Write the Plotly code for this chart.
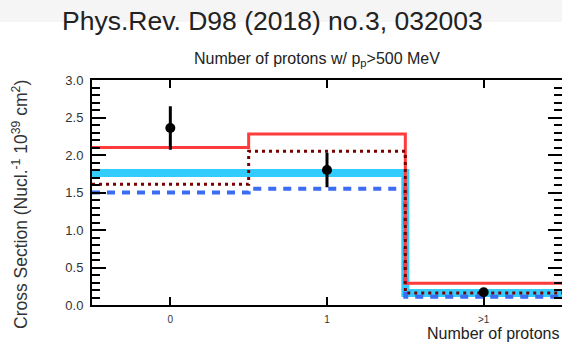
import plotly.graph_objects as go

# Bin edges and labels for the proton multiplicity
bin_edges = [-0.5, 0.5, 1.5, 2.5]
bin_centers = [0, 1, 2]
tick_labels = ["0", "1", ">1"]

# Model predictions per bin (10^-39 cm^2 / nucleon)
model_red = [2.10, 2.28, 0.29]
model_cyan = [1.76, 1.76, 0.16]
model_dotted = [1.61, 2.05, 0.16]
model_dashed = [1.50, 1.55, 0.11]

# Measured cross section and uncertainties
data_y = [2.36, 1.80, 0.17]
data_err_plus = [0.29, 0.23, 0.03]
data_err_minus = [0.29, 0.23, 0.03]


def step(vals):
    return bin_edges, list(vals) + [vals[-1]]


fig = go.Figure()

for vals, color, width, dash in [
    (model_cyan, "#33ccff", 8, "solid"),
    (model_dashed, "#3a6cf4", 4, "8px,7px"),
    (model_red, "#ff3b3b", 3, "solid"),
    (model_dotted, "#7a0000", 3, "3px,4px"),
]:
    xs, ys = step(vals)
    fig.add_trace(go.Scatter(x=xs, y=ys, mode="lines", line_shape="hv",
                             line=dict(color=color, width=width, dash=dash),
                             showlegend=False, hoverinfo="skip"))

fig.add_trace(go.Scatter(
    x=bin_centers, y=data_y, mode="markers",
    marker=dict(color="black", size=10),
    error_y=dict(type="data", array=data_err_plus, arrayminus=data_err_minus,
                 color="black", thickness=3, width=0),
    showlegend=False,
))

# Right-hand ticks without an axis line
fig.add_trace(go.Scatter(x=[None], y=[None], yaxis="y2", showlegend=False))

font = "Liberation Sans, Arial, sans-serif"
y_ticks = [0, 0.5, 1.0, 1.5, 2.0, 2.5, 3.0]

fig.update_layout(
    width=562, height=344,
    margin=dict(l=92, r=0, t=80, b=39),
    paper_bgcolor="white", plot_bgcolor="white",
    font=dict(family=font, color="#333333"),
    xaxis=dict(range=[-0.5, 2.5], tickvals=bin_centers, ticktext=tick_labels,
               ticks="inside", ticklen=8, tickwidth=1.5, tickcolor="black",
               showline=True, linecolor="black", linewidth=2, mirror="ticks",
               showgrid=False, zeroline=False, tickfont=dict(size=10),
               ticklabelstandoff=4),
    yaxis=dict(range=[0, 3.0], tickvals=y_ticks,
               tickformat=".1f", ticks="inside", ticklen=14, tickwidth=2,
               tickcolor="black", showline=True, linecolor="black", linewidth=2,
               showgrid=False, zeroline=False, tickfont=dict(size=13),
               ticklabelstandoff=4,
               minor=dict(dtick=0.1, ticks="inside", ticklen=8, tickwidth=1.5,
                          tickcolor="black", showgrid=False)),
    yaxis2=dict(range=[0, 3.0], overlaying="y", side="right", showline=False,
                tickvals=y_ticks, showticklabels=False,
                ticks="inside", ticklen=14, tickwidth=2, tickcolor="black",
                showgrid=False, zeroline=False,
                minor=dict(dtick=0.1, ticks="inside", ticklen=8, tickwidth=1.5,
                           tickcolor="black", showgrid=False)),
    shapes=[dict(type="rect", xref="paper", yref="paper", x0=-0.25, x1=1.0,
                 y0=(305 - 22) / 225, y1=(305 + 5) / 225, fillcolor="#f5f5f5",
                 line=dict(width=0), layer="below")],
    annotations=[
        dict(text="Phys.Rev. D98 (2018) no.3, 032003", xref="paper", yref="paper",
             x=(272 - 92) / 470, y=(305 - 21) / 225, xanchor="center", yanchor="middle",
             showarrow=False, font=dict(size=26.5, color="#222222", family=font)),
        dict(text="Number of protons w/ p<sub>p</sub>>500 MeV", xref="paper", yref="paper",
             x=(317 - 92) / 470, y=(305 - 59) / 225, xanchor="center", yanchor="middle",
             showarrow=False, font=dict(size=16, color="#222222", family=font)),
        dict(text="Cross Section (Nucl.<sup>-1</sup> 10<sup>39</sup> cm<sup>2</sup>)",
             xref="paper", yref="paper", x=(20 - 92) / 470, y=(305 - 205) / 225,
             xanchor="center", yanchor="middle", textangle=-90, showarrow=False,
             font=dict(size=17.5, color="#333333", family=font)),
        dict(text="Number of protons", xref="paper", yref="paper",
             x=1.0, y=(305 - 333) / 225, xanchor="right", yanchor="middle",
             showarrow=False, font=dict(size=16, color="#222222", family=font)),
    ],
)

fig.write_html("out.html")
